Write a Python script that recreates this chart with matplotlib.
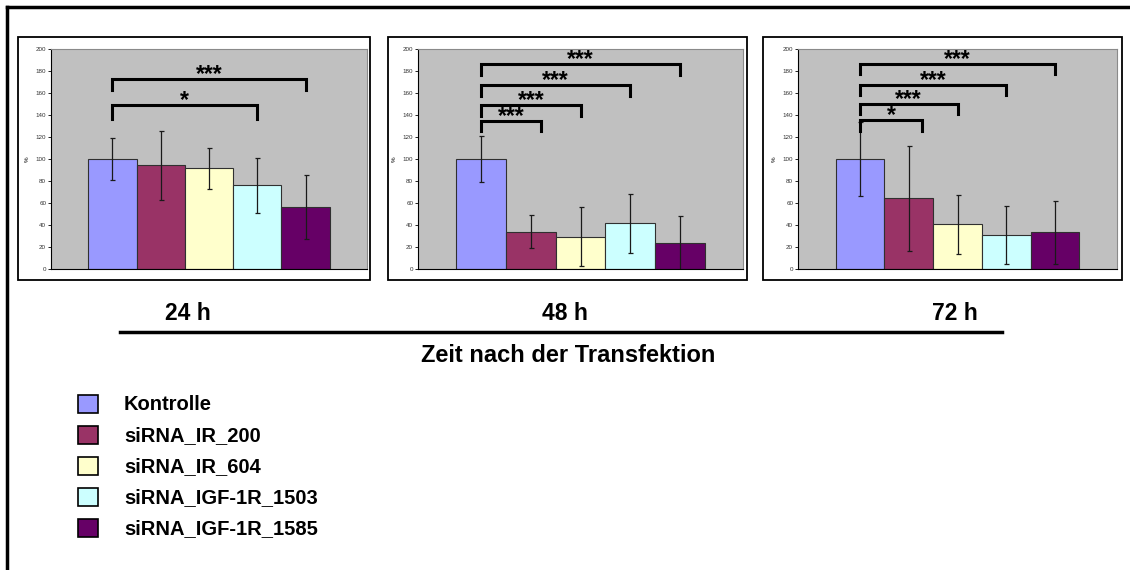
import matplotlib.pyplot as plt
from matplotlib.patches import Rectangle
from matplotlib.lines import Line2D

plt.rcParams['font.family'] = ['Liberation Sans', 'DejaVu Sans']

# series names and colours (Excel palette)
groups = ['Kontrolle', 'siRNA_IR_200', 'siRNA_IR_604', 'siRNA_IGF-1R_1503', 'siRNA_IGF-1R_1585']
colors = ['#9999FF', '#993366', '#FFFFCC', '#CCFFFF', '#660066']

times = ['24 h', '48 h', '72 h']

# mean values in % of control, one list per time point
means_24 = [100, 94.4, 91.4, 76, 56.6]
means_48 = [100, 33.9, 29.3, 41.5, 23.6]
means_72 = [100, 64.2, 40.5, 31, 33.5]

# standard deviations
sd_24 = [19, 31.5, 19, 25.3, 29]
sd_48 = [20.5, 15, 27, 27, 25]
sd_72 = [34, 47.6, 27.2, 26.3, 28.5]

# significance brackets: (start bar, end bar, height, tick drop, label)
sig_24 = [(0, 4, 173, 10.5, '***'), (0, 3, 149.5, 13.5, '*')]
sig_48 = [(0, 4, 186.4, 10.4, '***'), (0, 3, 167.3, 9.7, '***'),
          (0, 2, 149.5, 10, '***'), (0, 1.2, 135, 9.4, '***')]
sig_72 = [(0, 4, 186.6, 9.7, '***'), (0, 3, 167.7, 9.5, '***'),
          (0, 2, 149.8, 9.2, '***'), (0, 1.28, 135.2, 9.4, '*')]

W, H = 1130, 570


def fx(px):
    return px / W


def fy(py):
    return 1 - py / H


fig = plt.figure(figsize=(W / 100, H / 100), dpi=100)

# axes boxes in pixels: (left, right) of the grey plot area, and the outer chart frame
panels = [
    (51, 367, (18, 370), means_24, sd_24, sig_24),
    (418, 743, (388, 747), means_48, sd_48, sig_48),
    (798, 1117, (763, 1122), means_72, sd_72, sig_72),
]
top, bottom = 49, 269

for left, right, box, means, sds, sigs in panels:
    # chart frame around each plot
    fig.add_artist(Rectangle((fx(box[0]), fy(280)), fx(box[1] - box[0]), (280 - 37) / H,
                             transform=fig.transFigure, fill=False, ec='black', lw=1.3))
    ax = fig.add_axes([fx(left), fy(bottom), fx(right - left), (bottom - top) / H])
    ax.set_facecolor('#C0C0C0')
    x = list(range(len(means)))
    ax.bar(x, means, width=1.0, color=colors, edgecolor='#303030', linewidth=0.8)
    ax.errorbar(x, means, yerr=sds, fmt='none', ecolor='#1a1a1a', elinewidth=0.9,
                capsize=1.8, capthick=0.9)
    for x0, x1, h, drop, label in sigs:
        ax.plot([x0, x0, x1, x1], [h - drop, h, h, h - drop], color='black', lw=2.2,
                solid_joinstyle='miter', clip_on=False)
        ax.text((x0 + x1) / 2, h - 2, label, ha='center', va='baseline',
                fontsize=16.5, fontweight='bold')
    ax.set_xlim(-1.27, 5.27)
    ax.set_ylim(0, 200)
    ax.set_yticks(range(0, 201, 20))
    ax.set_xticks([])
    ax.tick_params(axis='y', labelsize=4.5, length=2, width=0.6, pad=1.5, labelcolor='#333333')
    ax.set_ylabel('%', fontsize=4.5, labelpad=4)
    for s in ['top', 'right']:
        ax.spines[s].set_color('#8a8a8a')
        ax.spines[s].set_linewidth(0.8)
    for s in ['left', 'bottom']:
        ax.spines[s].set_color('black')
        ax.spines[s].set_linewidth(0.8)

# time labels and axis line
for label, xc in zip(times, [188, 565, 955]):
    fig.text(fx(xc), fy(313), label, ha='center', va='center', fontsize=16.5, fontweight='bold')
fig.add_artist(Line2D([fx(120), fx(1002)], [fy(332), fy(332)], color='black', lw=2.5))
fig.text(fx(568), fy(355), 'Zeit nach der Transfektion', ha='center', va='center',
         fontsize=17, fontweight='bold')

# legend
for i, (name, c) in enumerate(zip(groups, colors)):
    yc = 404 + i * 31
    fig.add_artist(Rectangle((fx(78), fy(yc + 9)), fx(20), 18 / H, transform=fig.transFigure,
                             fc=c, ec='black', lw=1.2))
    fig.text(fx(124), fy(yc + 1), name, ha='left', va='center', fontsize=14.5, fontweight='bold')

# outer frame (top and left edge)
fig.add_artist(Line2D([fx(7), fx(1130)], [fy(7), fy(7)], color='black', lw=2.5))
fig.add_artist(Line2D([fx(7), fx(7)], [fy(7), fy(570)], color='black', lw=2.5))

fig.savefig('out.png', dpi=100)
